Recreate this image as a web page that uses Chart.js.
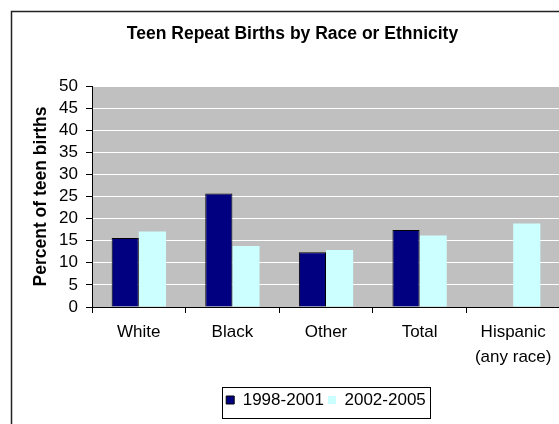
<!DOCTYPE html>
<html>
<head>
<meta charset="utf-8">
<title>Teen Repeat Births by Race or Ethnicity</title>
<script src="https://cdn.jsdelivr.net/npm/chart.js@4"></script>
<style>
  html, body { margin: 0; padding: 0; background: #fff; overflow: hidden; }
  #wrap { width: 580px; height: 424px; }
</style>
</head>
<body>
<div id="wrap"><canvas id="repeatChart" width="580" height="424"></canvas></div>
<script>
const categories = ['White', 'Black', 'Other', 'Total', ['Hispanic', '(any race)']];
const births_1998_2001 = [15.6, 25.7, 12.4, 17.4, null];
const births_2002_2005 = [17.1, 13.8, 12.9, 16.2, 18.9];
const y_min = 0;
const y_max = 50;
const y_step = 5;

Chart.defaults.font.family = '"Liberation Sans", Arial, sans-serif';
Chart.defaults.color = '#000';

// grey plot area and the thin frame round the whole chart
const frame = {
  id: 'frame',
  beforeDraw(chart) {
    const ctx = chart.ctx;
    const a = chart.chartArea;
    ctx.save();
    ctx.fillStyle = '#c0c0c0';
    ctx.fillRect(a.left, a.top, a.right - a.left, a.bottom - a.top);
    ctx.strokeStyle = '#222';
    ctx.lineWidth = 1.5;
    ctx.strokeRect(11.5, 11.5, chart.width + 20, chart.height + 20);
    ctx.restore();
  }
};

// box drawn round the legend entries
const legendBox = {
  id: 'legendBox',
  afterDraw(chart) {
    const boxes = chart.legend.legendHitBoxes;
    if (!boxes || !boxes.length) return;
    const left = Math.min(...boxes.map(b => b.left));
    const right = Math.max(...boxes.map(b => b.left + b.width));
    const top = Math.min(...boxes.map(b => b.top));
    const bottom = Math.max(...boxes.map(b => b.top + b.height));
    const ctx = chart.ctx;
    ctx.save();
    ctx.strokeStyle = '#000';
    ctx.lineWidth = 1;
    ctx.strokeRect(Math.round(left - 4) + 0.5, Math.round(top - 5) + 0.5,
      Math.round(right - left + 8), Math.round(bottom - top + 14));
    ctx.restore();
  }
};

const repeat_chart = document.getElementById('repeatChart');
new Chart(repeat_chart, {
  type: 'bar',
  data: {
    labels: categories,
    datasets: [{
      label: '1998-2001',
      data: births_1998_2001,
      backgroundColor: '#000080',
      borderColor: '#000',
      borderWidth: 1
    }, {
      label: '2002-2005',
      data: births_2002_2005,
      backgroundColor: '#ccffff',
      borderWidth: 0
    }]
  },
  options: {
    responsive: false,
    animation: false,
    devicePixelRatio: 1,
    categoryPercentage: 0.58,
    barPercentage: 1.0,
    layout: {
      padding: { left: 25, right: 20, top: 11, bottom: 5.5 }
    },
    plugins: {
      title: {
        display: true,
        text: 'Teen Repeat Births by Race or Ethnicity',
        font: { size: 17.5, weight: 'bold' },
        padding: { top: 13, bottom: 41 }
      },
      legend: {
        position: 'bottom',
        fullSize: false,
        labels: {
          boxWidth: 8,
          boxHeight: 8,
          padding: 4,
          font: { size: 17 }
        }
      },
      tooltip: { enabled: false }
    },
    scales: {
      x: {
        grid: {
          offset: true,
          drawOnChartArea: false,
          tickLength: 6,
          tickColor: '#000'
        },
        border: { color: '#000', width: 1 },
        ticks: {
          padding: 7,
          font: { size: 17, lineHeight: 1.45 },
          maxRotation: 0,
          autoSkip: false
        },
        afterFit(scale) { scale.height = 80.5; }
      },
      y: {
        min: y_min,
        max: y_max,
        grid: {
          color: '#ffffff',
          tickLength: 6,
          tickColor: '#000'
        },
        border: { color: '#000', width: 1 },
        ticks: {
          stepSize: y_step,
          autoSkip: false,
          padding: 8,
          font: { size: 17 }
        },
        title: {
          display: true,
          text: 'Percent of teen births',
          font: { size: 17.5, weight: 'bold' },
          padding: { top: 6, bottom: 0 }
        },
        afterFit(scale) { scale.width = 67; }
      }
    }
  },
  plugins: [frame, legendBox]
});
</script>
</body>
</html>
